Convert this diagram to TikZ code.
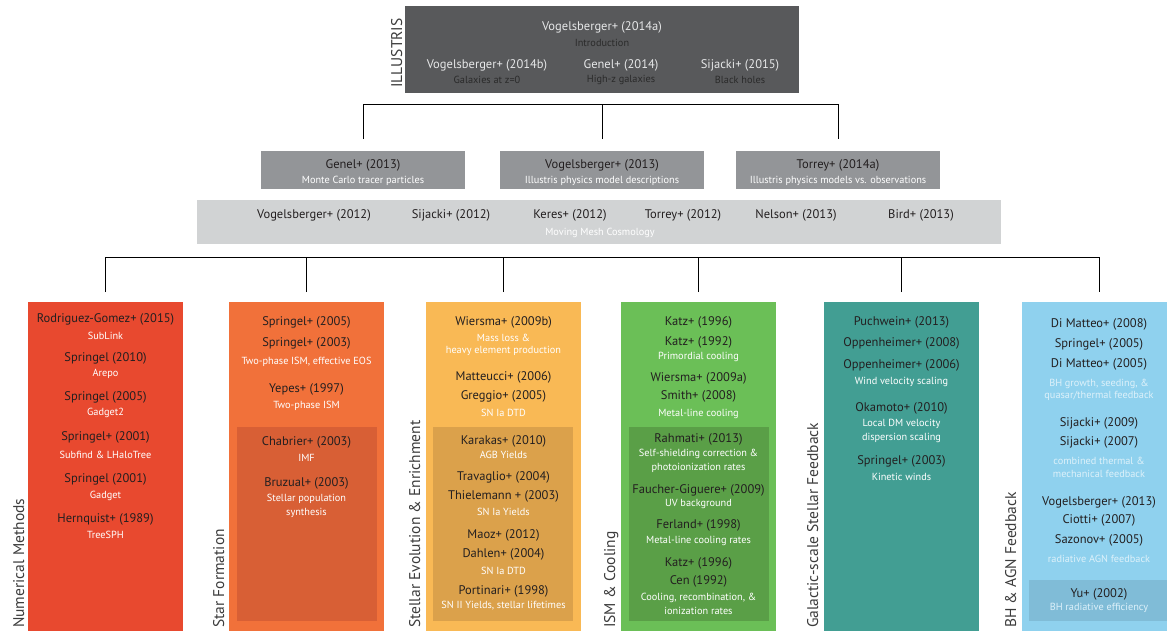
\documentclass[tikz,border=0pt]{standalone}
\usepackage{fontspec}
\setmainfont{PT Sans}
\definecolor{ink}{HTML}{231F20}
\definecolor{tagink}{HTML}{3C3C3C}
\definecolor{illdark}{HTML}{58595B}
\definecolor{illtext}{HTML}{E6E7E8}
\definecolor{illnote}{HTML}{2A2A2A}
\definecolor{midgray}{HTML}{939598}
\definecolor{meshgray}{HTML}{D1D3D4}
\definecolor{numred}{HTML}{E8492F}
\definecolor{starorange}{HTML}{F1713A}
\definecolor{starin}{HTML}{D85F35}
\definecolor{evoyellow}{HTML}{F9B955}
\definecolor{evoin}{HTML}{DBA14B}
\definecolor{coolgreen}{HTML}{6BBF57}
\definecolor{coolin}{HTML}{5A9F47}
\definecolor{windteal}{HTML}{429E93}
\definecolor{agnblue}{HTML}{8FD1EE}
\definecolor{agnin}{HTML}{80BCD7}
\tikzset{
  panel/.style={anchor=north west,inner sep=0pt,outer sep=0pt},
  ref/.style={font=\fontsize{12.5}{14}\selectfont,text=ink,inner sep=0pt},
  note/.style={font=\fontsize{10.3}{12}\selectfont,text=white,inner sep=0pt},
  tag/.style={rotate=90,anchor=base west,font=\fontsize{15.5}{17}\selectfont,
    text=tagink,inner sep=0pt},
  bus/.style={draw=black,line width=0.9pt}
}
\begin{document}
\begin{tikzpicture}[x=1pt,y=-1pt]
\clip (0,0) rectangle (1167,630);
\fill[white] (0,0) rectangle (1167,630);

% Illustris papers
\node[panel,fill=illdark,minimum width=394pt,minimum height=87pt] (ill) at (405,6) {};
\node[tag,anchor=base west] (illtag) at (402,88) {ILLUSTRIS};
\begin{scope}[ref/.append style={text=illtext},note/.append style={text=illnote}]
\node[ref] (vog14a) at (602,27) {Vogelsberger+ (2014a)};
\node[note] (vog14anote) at (602,43) {Introduction};
\node[ref] (vog14b) at (487,65) {Vogelsberger+ (2014b)};
\node[note] (vog14bnote) at (487,80) {Galaxies at z=0};
\node[ref] (gen14) at (621,65) {Genel+ (2014)};
\node[note] (gen14note) at (621,80) {High-z galaxies};
\node[ref] (sij15) at (740,65) {Sijacki+ (2015)};
\node[note] (sij15note) at (740,80) {Black holes};
\end{scope}

% model papers
\node[panel,fill=midgray,minimum width=204pt,minimum height=38pt] (gen13) at (261,151) {};
\node[panel,fill=midgray,minimum width=204pt,minimum height=38pt] (vog13) at (500,151) {};
\node[panel,fill=midgray,minimum width=204pt,minimum height=38pt] (tor14) at (736,151) {};
\foreach \b/\t/\n in {gen13/Genel+ (2013)/Monte Carlo tracer particles,
    vog13/Vogelsberger+ (2013)/Illustris physics model descriptions,
    tor14/Torrey+ (2014a)/Illustris physics models vs. observations}
{
  \node[ref] (\b-ref) at ([yshift=-14pt]\b.north) {\t};
  \node[note] (\b-note) at ([yshift=-30pt]\b.north) {\n};
}

% moving mesh papers
\node[panel,fill=meshgray,minimum width=804pt,minimum height=44pt] (mesh) at (197,200) {};
\foreach \x/\t [count=\i] in {314/Vogelsberger+ (2012),451/Sijacki+ (2012),570/Keres+ (2012),
    683/Torrey+ (2012),796/Nelson+ (2013),921/Bird+ (2013)}
  \node[ref] (mesh\i) at (\x,215) {\t};
\node[note] (meshnote) at (600,233) {Moving Mesh Cosmology};

% tree lines
\draw[bus] ([yshift=12pt]gen13.north) -- ++(0,-35) -| ([yshift=12pt]tor14.north);
\draw[bus] ([yshift=12pt]vog13.north) -- ++(0,-35);

% topic columns
\node[panel,fill=numred,minimum width=155pt,minimum height=330pt] (num) at (28,302) {};
\node[panel,fill=starorange,minimum width=155pt,minimum height=330pt] (star) at (229,302) {};
\node[panel,fill=evoyellow,minimum width=155pt,minimum height=330pt] (evo) at (426,302) {};
\node[panel,fill=coolgreen,minimum width=155pt,minimum height=330pt] (cool) at (621,302) {};
\node[panel,fill=windteal,minimum width=155pt,minimum height=330pt] (wind) at (824,302) {};
\node[panel,fill=agnblue,minimum width=155pt,minimum height=330pt] (agn) at (1022,302) {};
\node[panel,fill=starin,minimum width=140pt,minimum height=194pt] (starin) at (237,427) {};
\node[panel,fill=evoin,minimum width=140pt,minimum height=194pt] (evoin) at (433,427) {};
\node[panel,fill=coolin,minimum width=140pt,minimum height=194pt] (coolin) at (629,427) {};
\node[panel,fill=agnin,minimum width=140pt,minimum height=41pt] (agnin) at (1029,580) {};

\node[tag] (numtag) at (24,628) {Numerical Methods};
\node[tag] (startag) at (224,628) {Star Formation};
\node[tag] (evotag) at (420,628) {Stellar Evolution \& Enrichment};
\node[tag] (cooltag) at (615,628) {ISM \& Cooling};
\node[tag] (windtag) at (818,628) {Galactic-scale Stellar Feedback};
\node[tag] (agntag) at (1016,628) {BH \& AGN Feedback};

\draw[bus] ([yshift=10pt]num.north) -- ++(0,-35) -| ([yshift=10pt]agn.north);
\foreach \c in {star,evo,cool,wind}
  \draw[bus] ([yshift=10pt]\c.north) -- ++(0,-35);

% column texts
\foreach \y/\s/\t [count=\i] in {319/ref/Rodriguez-Gomez+ (2015),336/note/SubLink,
    358/ref/Springel (2010),374/note/Arepo,397/ref/Springel (2005),413/note/Gadget2,
    437/ref/Springel+ (2001),455/note/Subfind \& LHaloTree,479/ref/Springel (2001),
    496/note/Gadget,519/ref/Hernquist+ (1989),535/note/TreeSPH}
  \node[\s] (num\i) at (105.5,\y) {\t};

\foreach \y/\s/\t [count=\i] in {322/ref/Springel+ (2005),343/ref/Springel+ (2003),
    362/note/{Two-phase ISM, effective EOS},389/ref/Yepes+ (1997),406/note/Two-phase ISM,
    442/ref/Chabrier+ (2003),458/note/IMF,483/ref/Bruzual+ (2003),
    499/note/Stellar population,513/note/synthesis}
  \node[\s] (star\i) at (306.5,\y) {\t};

\foreach \y/\s/\t [count=\i] in {322/ref/Wiersma+ (2009b),338/note/Mass loss \&,
    351/note/heavy element production,377/ref/Matteucci+ (2006),396/ref/Greggio+ (2005),
    413/note/SN Ia DTD,441/ref/Karakas+ (2010),455/note/AGB Yields,477/ref/Travaglio+ (2004),
    496/ref/Thielemann + (2003),512/note/SN Ia Yields,535/ref/Maoz+ (2012),
    554/ref/Dahlen+ (2004),571/note/SN Ia DTD,591/ref/Portinari+ (1998),
    606/note/{SN II Yields, stellar lifetimes}}
  \node[\s] (evo\i) at (503.5,\y) {\t};

\foreach \y/\s/\t [count=\i] in {322/ref/Katz+ (1996),342/ref/Katz+ (1992),
    357/note/Primordial cooling,378/ref/Wiersma+ (2009a),396/ref/Smith+ (2008),
    414/note/Metal-line cooling,439/ref/Rahmati+ (2013),454/note/Self-shielding correction \&,
    468/note/photoionization rates,490/ref/Faucher-Giguere+ (2009),504/note/UV background,
    525/ref/Ferland+ (1998),541/note/Metal-line cooling rates,563/ref/Katz+ (1996),
    581/ref/Cen (1992),598/note/{Cooling, recombination, \&},611/note/ionization rates}
  \node[\s] (cool\i) at (698.5,\y) {\t};

\foreach \y/\s/\t [count=\i] in {322/ref/Puchwein+ (2013),343/ref/Oppenheimer+ (2008),
    365/ref/Oppenheimer+ (2006),382/note/Wind velocity scaling,408/ref/Okamoto+ (2010),
    424/note/Local DM velocity,438/note/dispersion scaling,461/ref/Springel+ (2003),
    477/note/Kinetic winds}
  \node[\s] (wind\i) at (901.5,\y) {\t};

\begin{scope}[note/.append style={text=white!70!agnblue}]
\foreach \y/\s/\t [count=\i] in {324/ref/Di Matteo+ (2008),344/ref/Springel+ (2005),
    364/ref/Di Matteo+ (2005),384/note/{BH growth, seeding, \&},
    396/note/{quasar/thermal feedback},423/ref/Sijacki+ (2009),442/ref/Sijacki+ (2007),
    461/note/combined thermal \&,474/note/mechanical feedback,502/ref/Vogelsberger+ (2013),
    520/ref/Ciotti+ (2007),540/ref/Sazonov+ (2005),559/note/radiative AGN feedback,
    594/ref/Yu+ (2002),608/note/BH radiative efficiency}
  \node[\s] (agn\i) at (1099,\y) {\t};
\end{scope}
\end{tikzpicture}
\end{document}
